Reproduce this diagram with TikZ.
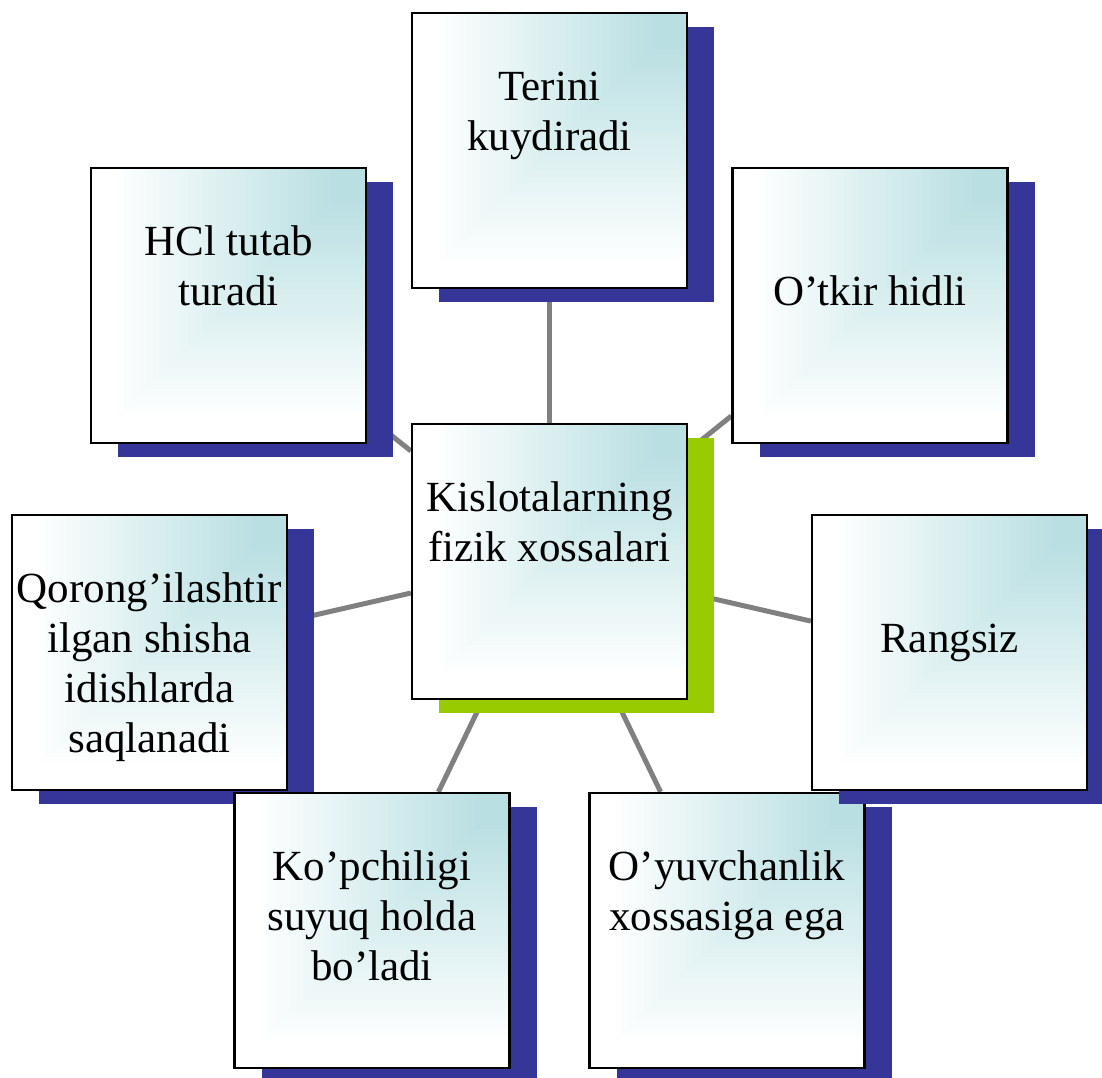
\documentclass[tikz,border=0pt]{standalone}
\usepackage{fontspec}
\setmainfont{Liberation Serif}
\usetikzlibrary{shadows,backgrounds}
\definecolor{tealc}{RGB}{185,223,226}
\definecolor{shblue}{RGB}{54,54,153}
\definecolor{shgreen}{RGB}{153,204,0}
\definecolor{linegray}{RGB}{128,128,128}
\tikzset{
  gradfill/.style={path picture={
    \coordinate (pne) at (path picture bounding box.north east);
    \foreach \kk in {0,...,36}{
      \pgfmathsetmacro\sz{1-\kk*0.025}
      \pgfmathsetmacro\pc{max(0,min(100,(0.9-\sz)/0.78*100))}
      \fill[tealc!\pc!white] (pne) rectangle ([shift={(-\sz*285,-\sz*285)}]pne);
    }
  }},
  card/.style={draw=black, line width=2.2pt, fill=white, minimum width=275pt, minimum height=275pt,
    inner sep=0pt, gradfill,
    drop shadow={shadow xshift=27pt, shadow yshift=-14pt, fill=#1, opacity=1}},
  txt/.style={anchor=base, inner sep=0pt, font=\fontsize{43}{50}\selectfont},
  conn/.style={draw=linegray, line width=5pt}
}
\newcommand{\boxtext}[1]{\parbox[t]{330pt}{\fontsize{43}{50}\selectfont\centering #1}}
\begin{document}
\begin{tikzpicture}[x=1pt,y=1pt]
\useasboundingbox (0,0) rectangle (1102,1077);
% top
\node[card=shblue] (n1) at (549.5,926.5) {};
\node[txt] (t1) at ([yshift=-89pt]n1.north) {\boxtext{Terini\\kuydiradi}};
% HCl
\node[card=shblue] (n2) at (228.5,771.5) {};
\node[txt] (t2) at ([yshift=-89pt]n2.north) {\boxtext{HCl tutab\\turadi}};
% O'tkir
\node[card=shblue] (n3) at (870,771.5) {};
\node[txt] (t3) at ([yshift=-139pt]n3.north) {\boxtext{O’tkir hidli}};
% center
\node[card=shgreen] (c) at (549.5,515.5) {};
\node[txt] (tc) at ([yshift=-89pt]c.north) {\boxtext{Kislotalarning\\fizik xossalari}};
% left
\node[card=shblue] (n5) at (149.5,424.5) {};
\node[txt] (t5) at ([yshift=-89pt]n5.north) {\boxtext{Qorong’ilashtir\\ilgan shisha\\idishlarda\\saqlanadi}};
% bottom left
\node[card=shblue] (n6) at (372,146.5) {};
\node[txt] (t6) at ([yshift=-89pt]n6.north) {\boxtext{Ko’pchiligi\\suyuq holda\\bo’ladi}};
% bottom right
\node[card=shblue] (n7) at (727,146.5) {};
\node[txt] (t7) at ([yshift=-89pt]n7.north) {\boxtext{O’yuvchanlik\\xossasiga ega}};
% right
\node[card=shblue] (n8) at (949.5,424.5) {};
\node[txt] (t8) at ([yshift=-139pt]n8.north) {\boxtext{Rangsiz}};
% connectors
\begin{scope}[on background layer]
\foreach \nn in {n1,n2,n3,n5,n6,n7,n8} \draw[conn] (c) -- (\nn);
\end{scope}
\end{tikzpicture}
\end{document}
